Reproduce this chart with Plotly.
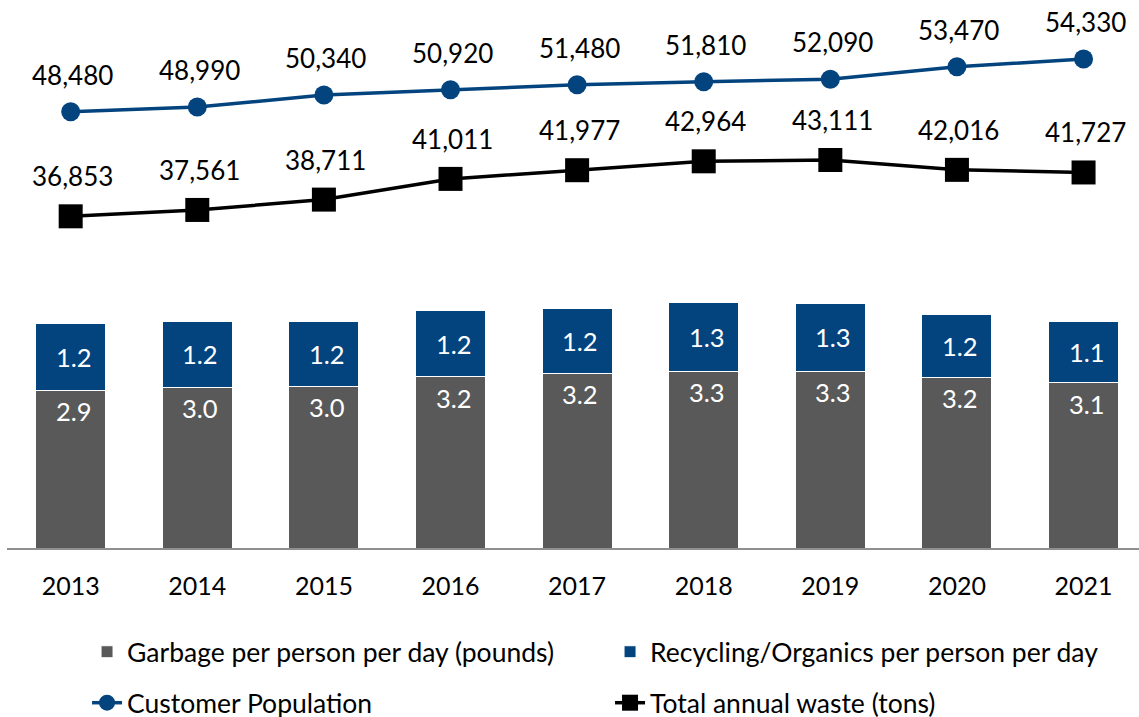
import plotly.graph_objects as go

years = ["2013", "2014", "2015", "2016", "2017", "2018", "2019", "2020", "2021"]
garbage = [2.92, 2.98, 3.00, 3.17, 3.24, 3.27, 3.27, 3.16, 3.06]
recycling = [1.23, 1.21, 1.20, 1.23, 1.20, 1.27, 1.26, 1.16, 1.13]
population = [48480, 48990, 50340, 50920, 51480, 51810, 52090, 53470, 54330]
total_waste = [36853, 37561, 38711, 41011, 41977, 42964, 43111, 42016, 41727]

FONT = "Lato"
GRAY = "#595959"
BLUE = "#03447F"

fig = go.Figure()
fig.add_trace(go.Bar(
    x=years, y=garbage, name="Garbage per person per day (pounds)",
    marker=dict(color=GRAY, line=dict(color="#ffffff", width=1)),
    legend="legend", hoverinfo="skip"))
fig.add_trace(go.Bar(
    x=years, y=recycling, name="Recycling/Organics per person per day",
    marker=dict(color=BLUE, line=dict(color="#ffffff", width=1)),
    legend="legend", hoverinfo="skip"))
fig.add_trace(go.Scatter(
    x=years, y=population, name="Customer Population", yaxis="y2",
    mode="lines+markers", line=dict(color=BLUE, width=3.5),
    marker=dict(symbol="circle", size=19, color=BLUE),
    legend="legend2", hoverinfo="skip"))
fig.add_trace(go.Scatter(
    x=years, y=total_waste, name="Total annual waste (tons)", yaxis="y2",
    mode="lines+markers", line=dict(color="#000000", width=3.5),
    marker=dict(symbol="square", size=24, color="#000000"),
    legend="legend2", hoverinfo="skip"))

ann = []
for i, yr in enumerate(years):
    ann.append(dict(x=i, y=garbage[i], xref="x", yref="y", text=f"{garbage[i]:.1f}",
                    showarrow=False, yanchor="middle", yshift=-21, xshift=3,
                    font=dict(family=FONT, size=25.5, color="#ffffff")))
    ann.append(dict(x=i, y=garbage[i] + recycling[i] / 2, xref="x", yref="y",
                    text=f"{recycling[i]:.1f}", showarrow=False, yanchor="middle", xshift=3,
                    font=dict(family=FONT, size=25.5, color="#ffffff")))
    ann.append(dict(x=i, y=population[i], xref="x", yref="y2", text=f"{population[i]:,}",
                    showarrow=False, yanchor="middle", yshift=37, xshift=2,
                    font=dict(family=FONT, size=26, color="#000000")))
    ann.append(dict(x=i, y=total_waste[i], xref="x", yref="y2", text=f"{total_waste[i]:,}",
                    showarrow=False, yanchor="middle", yshift=40, xshift=2,
                    font=dict(family=FONT, size=26, color="#000000")))

fig.update_layout(
    width=1139, height=730,
    margin=dict(l=7, r=0, t=8, b=182),
    paper_bgcolor="#ffffff", plot_bgcolor="#ffffff",
    barmode="stack", bargap=0.447,
    font=dict(family=FONT, color="#000000"),
    xaxis=dict(type="category", range=[-0.503, 8.438], showgrid=False,
               showline=True, linecolor="#8f8f8f", linewidth=1.5,
               ticks="", ticklabelstandoff=15,
               tickfont=dict(family=FONT, size=25, color="#000000")),
    yaxis=dict(range=[0, 10], visible=False, showgrid=False),
    yaxis2=dict(range=[0, 60000], overlaying="y", side="right", visible=False, showgrid=False),
    legend=dict(orientation="h", x=0.0707, xanchor="left", y=-0.1926, yanchor="middle",
                entrywidth=478, traceorder="normal",
                font=dict(family=FONT, size=26.5, color="#000000"),
                bgcolor="rgba(0,0,0,0)"),
    legend2=dict(orientation="h", x=0.0707, xanchor="left", y=-0.287, yanchor="middle",
                 entrywidth=478, traceorder="normal",
                 font=dict(family=FONT, size=26.5, color="#000000"),
                 bgcolor="rgba(0,0,0,0)"),
    annotations=ann,
    showlegend=True,
)

fig.write_html("out.html", config={"displayModeBar": False},
               post_script="document.body.style.margin='0';document.body.style.overflow='hidden';")
